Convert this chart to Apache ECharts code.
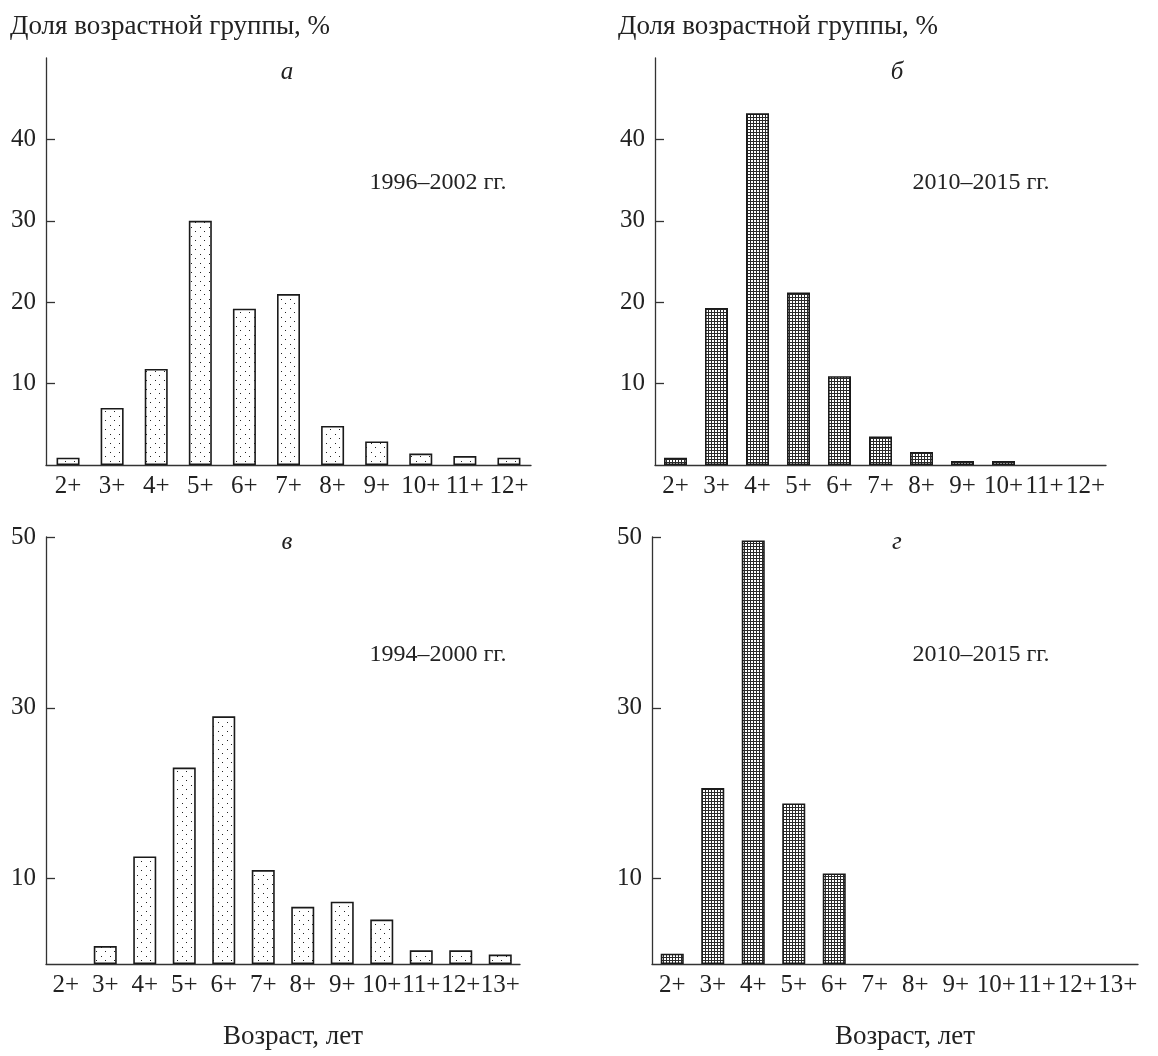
<!DOCTYPE html>
<html>
<head>
<meta charset="utf-8">
<script src="https://cdn.jsdelivr.net/npm/echarts@6/dist/echarts.min.js"></script>
<style>html,body{margin:0;padding:0;background:#fff;}#c{width:1158px;height:1056px;}</style>
</head>
<body>
<div id="c"></div>
<script>
// ---- data ----
const agesTop = ['2+','3+','4+','5+','6+','7+','8+','9+','10+','11+','12+'];
const agesBottom = ['2+','3+','4+','5+','6+','7+','8+','9+','10+','11+','12+','13+'];
const shareA = [0.9, 7.0, 11.8, 30.0, 19.2, 21.0, 4.8, 2.9, 1.4, 1.1, 0.9];
const shareB = [0.9, 19.3, 43.2, 21.2, 10.9, 3.5, 1.6, 0.5, 0.5, 0, 0];
const shareV = [0, 2.1, 12.6, 23.0, 29.0, 11.0, 6.7, 7.3, 5.2, 1.6, 1.6, 1.1];
const shareG = [1.2, 20.6, 49.6, 18.8, 10.6, 0, 0, 0, 0, 0, 0, 0];
const ticksTop = [10, 20, 30, 40];
const ticksBottom = [10, 30, 50];
const panelLetters = ['а', 'б', 'в', 'г'];
const periods = ['1996–2002 гг.', '2010–2015 гг.', '1994–2000 гг.', '2010–2015 гг.'];
const yTitle = 'Доля возрастной группы, %';
const xTitle = 'Возраст, лет';

// ---- patterns ----
function dotPattern() {
  const c = document.createElement('canvas'); c.width = 9; c.height = 9;
  const g = c.getContext('2d');
  g.fillStyle = '#fff'; g.fillRect(0, 0, 9, 9);
  g.fillStyle = '#222';
  g.fillRect(2, 2, 1, 1); g.fillRect(6, 6, 1, 1);
  return c;
}
function gridPattern() {
  const c = document.createElement('canvas'); c.width = 3; c.height = 3;
  const g = c.getContext('2d');
  g.fillStyle = '#fff'; g.fillRect(0, 0, 3, 3);
  g.fillStyle = '#2a2a2a';
  g.fillRect(0, 0, 3, 1); g.fillRect(0, 0, 1, 3);
  return c;
}
const dots = { image: dotPattern(), repeat: 'repeat' };
const mesh = { image: gridPattern(), repeat: 'repeat' };

const FONT = '"Liberation Serif", "DejaVu Serif", serif';
const TXT = '#222';
const FS_TICK = 25;
const FS_PERIOD = 24;
const FS_TITLE = 27;

const grids = [
  { left: 46, top: 58, width: 485, height: 407 },
  { left: 655, top: 58, width: 451, height: 407 },
  { left: 46, top: 537, width: 474, height: 427 },
  { left: 652, top: 537, width: 486, height: 427 }
];
const cats = [agesTop, agesTop, agesBottom, agesBottom];
const vals = [shareA, shareB, shareV, shareG];
const fills = [dots, mesh, dots, mesh];
const ticks = [ticksTop, ticksTop, ticksBottom, ticksBottom];

const axisLine = { show: true, lineStyle: { color: '#333', width: 1.3 } };

function txt(x, y, s, font) {
  return { type: 'text', x: x, y: y, style: { text: s, font: font, fill: TXT, align: 'center', verticalAlign: 'middle' } };
}

const option = {
  animation: false,
  backgroundColor: '#fff',
  grid: grids.map(g => Object.assign({ containLabel: false }, g)),
  xAxis: cats.map((c, i) => ({
    type: 'category', gridIndex: i, data: c,
    axisLine: axisLine, axisTick: { show: false },
    axisLabel: { interval: 0, color: TXT, fontFamily: FONT, fontSize: FS_TICK, margin: 9 },
    splitLine: { show: false }
  })),
  yAxis: ticks.map((t, i) => ({
    type: 'value', gridIndex: i, min: 0, max: 50, interval: 10,
    axisLine: axisLine,
    axisTick: { show: true, inside: true, length: 9, customValues: t, lineStyle: { color: '#333', width: 1.3 } },
    axisLabel: { customValues: t, color: TXT, fontFamily: FONT, fontSize: FS_TICK, margin: 10 },
    splitLine: { show: false }
  })),
  series: vals.map((v, i) => ({
    type: 'bar', xAxisIndex: i, yAxisIndex: i, barWidth: 23,
    data: v.map(d => d > 0 ? d : { value: d, itemStyle: { borderWidth: 0 } }),
    itemStyle: { color: fills[i], borderColor: '#1a1a1a', borderWidth: 1.6 },
    silent: true
  })),
  graphic: [
    { type: 'text', left: 10, top: 13, style: { text: yTitle, font: FS_TITLE + 'px ' + FONT, fill: TXT } },
    { type: 'text', left: 618, top: 13, style: { text: yTitle, font: FS_TITLE + 'px ' + FONT, fill: TXT } },
    txt(287, 72, panelLetters[0], 'italic 25px ' + FONT),
    txt(897, 72, panelLetters[1], 'italic 25px ' + FONT),
    txt(287, 542, panelLetters[2], 'italic 25px ' + FONT),
    txt(897, 542, panelLetters[3], 'italic 25px ' + FONT),
    txt(438, 183, periods[0], FS_PERIOD + 'px ' + FONT),
    txt(981, 183, periods[1], FS_PERIOD + 'px ' + FONT),
    txt(438, 655, periods[2], FS_PERIOD + 'px ' + FONT),
    txt(981, 655, periods[3], FS_PERIOD + 'px ' + FONT),
    txt(293, 1037, xTitle, FS_TITLE + 'px ' + FONT),
    txt(905, 1037, xTitle, FS_TITLE + 'px ' + FONT)
  ]
};

const chart = echarts.init(document.getElementById('c'), null, { renderer: 'canvas' });
chart.setOption(option);
</script>
</body>
</html>
